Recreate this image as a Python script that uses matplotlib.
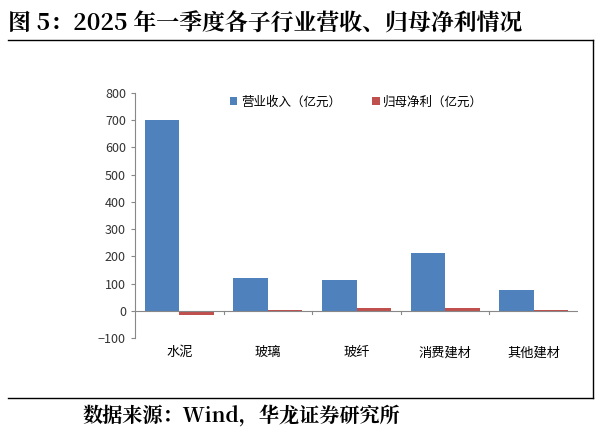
import matplotlib
matplotlib.use("Agg")
import matplotlib.pyplot as plt
import numpy as np

plt.rcParams['font.family'] = ['Noto Sans CJK SC', 'DejaVu Sans']

categories = ['水泥', '玻璃', '玻纤', '消费建材', '其他建材']
revenue = [701, 121, 113, 213, 76]
net_profit = [-17, 4, 11, 11, 2]

W, H = 599, 441
fig = plt.figure(figsize=(W/100, H/100), dpi=100)
ax = fig.add_axes([135/W, (H-338)/H, (578-135)/W, (338-93)/H])

x = np.arange(len(categories))
bw = 0.39
ax.bar(x - bw/2, revenue, bw, color='#4F81BD', label='营业收入（亿元）')
ax.bar(x + bw/2, net_profit, bw, color='#C0504D', label='归母净利（亿元）')

ax.set_xlim(-0.5, len(categories) - 0.5)
ax.set_ylim(-100, 800)
ax.set_yticks(range(-100, 801, 100))
ax.tick_params(axis='y', labelsize=9, length=3, color='#888888', colors='#333333')
ax.tick_params(axis='x', length=0, labelsize=9.5, pad=6)
ax.set_xticks(x)
ax.set_xticklabels(categories)
for s in ['top', 'right', 'bottom']:
    ax.spines[s].set_visible(False)
ax.spines['left'].set_color('#888888')
ax.axhline(0, color='#888888', lw=0.8)
for xm in np.arange(0.5, len(categories) - 0.5, 1):
    ax.plot([xm, xm], [0, -12], color='#888888', lw=0.8, clip_on=False)

ax.legend(loc='upper center', bbox_to_anchor=(0.5, 1.035), ncol=2, frameon=False,
          fontsize=9, handlelength=0.6, handleheight=0.6, columnspacing=2.5, handletextpad=0.3)

serif = ['Noto Serif CJK SC', 'Noto Sans CJK SC', 'DejaVu Serif']
fig.text(8/W, 1 - 24/H, '图 5：2025 年一季度各子行业营收、归母净利情况', fontsize=16.5,
         fontweight='bold', family=serif, va='center')
fig.add_artist(plt.Line2D([8/W, 593/W], [1 - 40/H, 1 - 40/H], color='black', lw=1))
fig.add_artist(plt.Line2D([593/W, 593/W], [1 - 40/H, 1 - 398/H], color='black', lw=1))
fig.add_artist(plt.Line2D([8/W, 593/W], [1 - 398/H, 1 - 398/H], color='black', lw=1))
fig.text(82/W, 1 - 416/H, '数据来源：Wind，华龙证券研究所', fontsize=14.5, fontweight='bold',
         family=serif, va='center')

fig.savefig('out.png', dpi=100)
